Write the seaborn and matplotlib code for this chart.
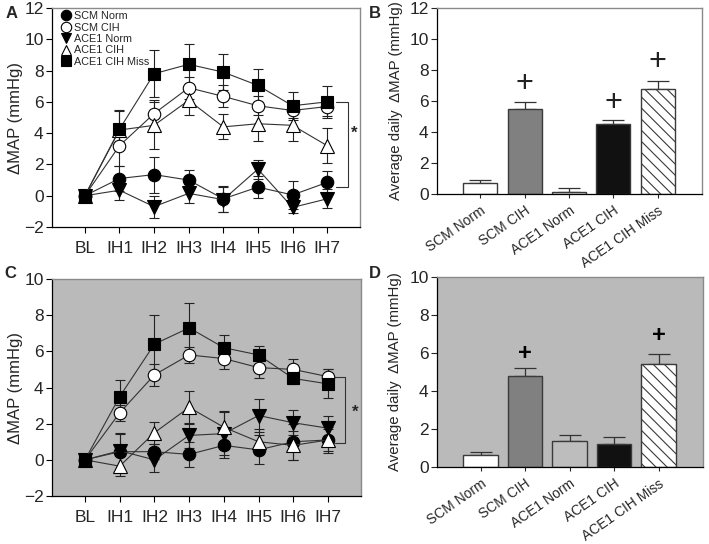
import numpy as np
import pandas as pd
import matplotlib
matplotlib.use("Agg")
import matplotlib.pyplot as plt
from matplotlib.lines import Line2D
import seaborn as sns

sns.set_theme(style="ticks")
plt.rcParams['font.family'] = ['Liberation Sans', 'DejaVu Sans']
plt.rcParams['hatch.linewidth'] = 0.8

# ---------------- data ----------------
days = ["BL", "IH1", "IH2", "IH3", "IH4", "IH5", "IH6", "IH7"]
series_names = ["SCM Norm", "SCM CIH", "ACE1 Norm", "ACE1 CIH", "ACE1 CIH Miss"]

A_scm_norm = [0, 1.1, 1.35, 1.0, -0.2, 0.55, 0.05, 0.85]
A_scm_norm_err = [0.15, 0.8, 1.15, 0.65, 0.85, 0.7, 0.9, 0.7]
A_scm_cih = [0, 3.2, 5.25, 6.9, 6.35, 5.75, 5.45, 5.7]
A_scm_cih_err = [0.1, 1.3, 0.85, 0.7, 0.7, 0.6, 0.5, 0.6]
A_ace_norm = [0, 0.35, -0.7, 0.15, -0.25, 1.7, -0.75, -0.2]
A_ace_norm_err = [0.1, 0.6, 0.7, 0.6, 0.8, 0.6, 0.35, 0.6]
A_ace_cih = [0, 4.2, 4.5, 6.1, 4.4, 4.6, 4.5, 3.2]
A_ace_cih_err = [0.1, 1.2, 1.5, 0.95, 0.8, 1.1, 1.0, 1.1]
A_miss = [0, 4.25, 7.8, 8.4, 7.9, 7.05, 5.75, 6.0]
A_miss_err = [0.1, 1.2, 1.5, 1.3, 1.15, 1.05, 0.9, 1.0]

C_scm_norm = [0, 0.45, 0.45, 0.3, 0.8, 0.55, 1.0, 1.1]
C_scm_norm_err = [0.1, 1.0, 0.4, 0.7, 0.7, 0.8, 1.0, 0.6]
C_scm_cih = [0, 2.6, 4.7, 5.8, 5.6, 5.1, 5.0, 4.6]
C_scm_cih_err = [0.1, 0.45, 0.6, 0.45, 0.6, 0.6, 0.6, 0.4]
C_ace_norm = [0, 0.5, 0.0, 1.35, 1.45, 2.45, 2.05, 1.75]
C_ace_norm_err = [0.1, 1.0, 0.65, 0.7, 1.2, 0.9, 0.7, 0.7]
C_ace_cih = [0, -0.35, 1.5, 2.9, 1.8, 1.0, 0.8, 1.1]
C_ace_cih_err = [0.1, 0.55, 0.6, 0.9, 0.9, 0.7, 0.8, 0.7]
C_miss = [0, 3.5, 6.4, 7.3, 6.2, 5.8, 4.5, 4.2]
C_miss_err = [0.1, 0.9, 1.6, 1.35, 0.7, 0.5, 0.3, 0.8]

bar_groups = ["SCM Norm", "SCM CIH", "ACE1 Norm", "ACE1 CIH", "ACE1 CIH Miss"]
B_mean = [0.7, 5.5, 0.1, 4.5, 6.75]
B_err = [0.2, 0.45, 0.3, 0.3, 0.55]
B_plus = [np.nan, 7.1, np.nan, 5.85, 8.5]
D_mean = [0.65, 4.8, 1.35, 1.2, 5.4]
D_err = [0.13, 0.4, 0.35, 0.4, 0.55]
D_plus = [np.nan, 6.0, np.nan, np.nan, 6.9]

# ---------------- styles ----------------
W, H = 709, 544
fig = plt.figure(figsize=(W / 100, H / 100), dpi=100)
fig.patch.set_facecolor("white")

def px_axes(left, right, top, bottom):
    return fig.add_axes([left / W, 1 - bottom / H, (right - left) / W, (bottom - top) / H])

axA = px_axes(52, 360, 8, 227)
axB = px_axes(437, 702, 8, 194)
axC = px_axes(52, 361, 279, 496)
axD = px_axes(437, 703, 277, 467)

GRAYBG = "#bababa"
marker_styles = {
    "SCM Norm": dict(marker="o", mfc="black"),
    "SCM CIH": dict(marker="o", mfc="white"),
    "ACE1 Norm": dict(marker="v", mfc="black"),
    "ACE1 CIH": dict(marker="^", mfc="white"),
    "ACE1 CIH Miss": dict(marker="s", mfc="black"),
}
msize = {"o": 9, "v": 9.5, "^": 9.5, "s": 8.5}

def line_panel(ax, vals, errs, ylim, yticks, bracket, star, bg):
    x = np.arange(len(days))
    ax.set_facecolor(bg)
    for name, v, e in zip(series_names, vals, errs):
        st = marker_styles[name]
        ax.errorbar(x, v, yerr=e, fmt="none", ecolor="#222222", elinewidth=0.8,
                    capsize=3.5, capthick=0.8, zorder=2)
        df = pd.DataFrame({"day": x, "val": v})
        sns.lineplot(data=df, x="day", y="val", ax=ax, color="#333333", linewidth=0.8,
                     marker=st["marker"], markersize=msize[st["marker"]],
                     markerfacecolor=st["mfc"], markeredgecolor="black",
                     markeredgewidth=0.8, errorbar=None, zorder=3)
    ax.set_xlim(-0.95, 7.95)
    ax.set_ylim(*ylim)
    ax.set_yticks(yticks)
    ax.set_xticks(x)
    ax.set_xticklabels(days)
    ax.set_xlabel("")
    ax.set_ylabel("ΔMAP (mmHg)", fontsize=12, labelpad=1)
    ax.tick_params(axis="both", labelsize=12.5, length=4, width=0.8, color="black", pad=2)
    ax.tick_params(axis="x", pad=6)
    for s in ["left", "bottom"]:
        ax.spines[s].set_color("black")
        ax.spines[s].set_linewidth(0.9)
    for s in ["top", "right"]:
        ax.spines[s].set_color("#8a8a8a")
        ax.spines[s].set_linewidth(1.0)
    bx, y1, y2, xs = bracket
    ax.plot([xs, bx, bx, xs], [y1, y1, y2, y2], color="#333333", lw=0.8, zorder=1)
    ax.text(star[0], star[1], "*", fontsize=12, fontweight="bold", ha="center", va="center")

line_panel(axA,
           [A_scm_norm, A_scm_cih, A_ace_norm, A_ace_cih, A_miss],
           [A_scm_norm_err, A_scm_cih_err, A_ace_norm_err, A_ace_cih_err, A_miss_err],
           (-2, 12), range(-2, 13, 2), (7.6, 6.0, 0.55, 7.25), (7.77, 4.0), "white")
line_panel(axC,
           [C_scm_norm, C_scm_cih, C_ace_norm, C_ace_cih, C_miss],
           [C_scm_norm_err, C_scm_cih_err, C_ace_norm_err, C_ace_cih_err, C_miss_err],
           (-2, 10), range(-2, 11, 2), (7.5, 4.6, 0.95, 7.2), (7.77, 2.65), GRAYBG)

# legend in A
handles = [Line2D([], [], linestyle="none", marker=marker_styles[n]["marker"],
                  markerfacecolor=marker_styles[n]["mfc"], markeredgecolor="black",
                  markeredgewidth=0.8, markersize=7.5) for n in series_names]
axA.legend(handles, series_names, loc="upper left", bbox_to_anchor=(0.015, 1.005),
           frameon=False, fontsize=7.8, handlelength=0.9, handletextpad=0.35,
           labelspacing=0.13, borderpad=0.2, borderaxespad=0.2)

def bar_panel(ax, means, errs, plus, colors, ylim, yticks, bg, plus_kw):
    ax.set_facecolor(bg)
    df = pd.DataFrame({"group": bar_groups, "val": means})
    sns.barplot(data=df, x="group", y="val", hue="group", palette=colors, legend=False,
                ax=ax, width=0.77, edgecolor="#3a3a3a", linewidth=1.0, errorbar=None,
                saturation=1, zorder=2)
    x = np.arange(len(bar_groups))
    ax.errorbar(x, means, yerr=[np.zeros(len(errs)), errs], fmt="none", ecolor="#333333",
                elinewidth=0.9, capsize=8, capthick=0.9, zorder=1)
    # hatch the last bar
    p = ax.patches[-1]
    p.set_hatch("\\\\\\")
    if hasattr(p, "set_hatchcolor"):
        p.set_hatchcolor("#6a6a6a")
    for xi, yp in zip(x, plus):
        if not np.isnan(yp):
            ax.text(xi, yp, "+", ha="center", va="center", **plus_kw)
    ax.set_xlim(-0.98, 5.0)
    ax.set_ylim(*ylim)
    ax.set_yticks(yticks)
    ax.set_xticks(x)
    ax.set_xticklabels(bar_groups, rotation=35, ha="right", rotation_mode="anchor", fontsize=10)
    ax.set_xlabel("")
    ax.set_ylabel("Average daily  ΔMAP (mmHg)", fontsize=10.8, labelpad=3)
    ax.yaxis.set_label_coords(-0.13, 0.5)
    ax.tick_params(axis="y", labelsize=12.5, length=4, width=0.8, pad=2)
    ax.tick_params(axis="x", length=3, width=0.8, pad=4)
    for s in ["left", "bottom"]:
        ax.spines[s].set_color("black")
        ax.spines[s].set_linewidth(0.9)
    for s in ["top", "right"]:
        ax.spines[s].set_color("#8a8a8a")
        ax.spines[s].set_linewidth(1.0)

bar_panel(axB, B_mean, B_err, B_plus,
          ["white", "#808080", "white", "#111111", "white"],
          (0, 12), range(0, 13, 2), "white",
          dict(fontsize=22, fontweight="light", color="#222222"))
bar_panel(axD, D_mean, D_err, D_plus,
          ["white", "#808080", "#bdbdbd", "#111111", "white"],
          (0, 10), range(0, 11, 2), GRAYBG,
          dict(fontsize=17, fontweight="bold", color="black"))

# panel letters
for lab, xp, yp in [("A", 12, 13), ("B", 375, 13), ("C", 10, 274), ("D", 375, 274)]:
    fig.text(xp / W, 1 - yp / H, lab, fontsize=12, fontweight="bold", ha="center", va="center")

fig.savefig("out.png", dpi=100)
